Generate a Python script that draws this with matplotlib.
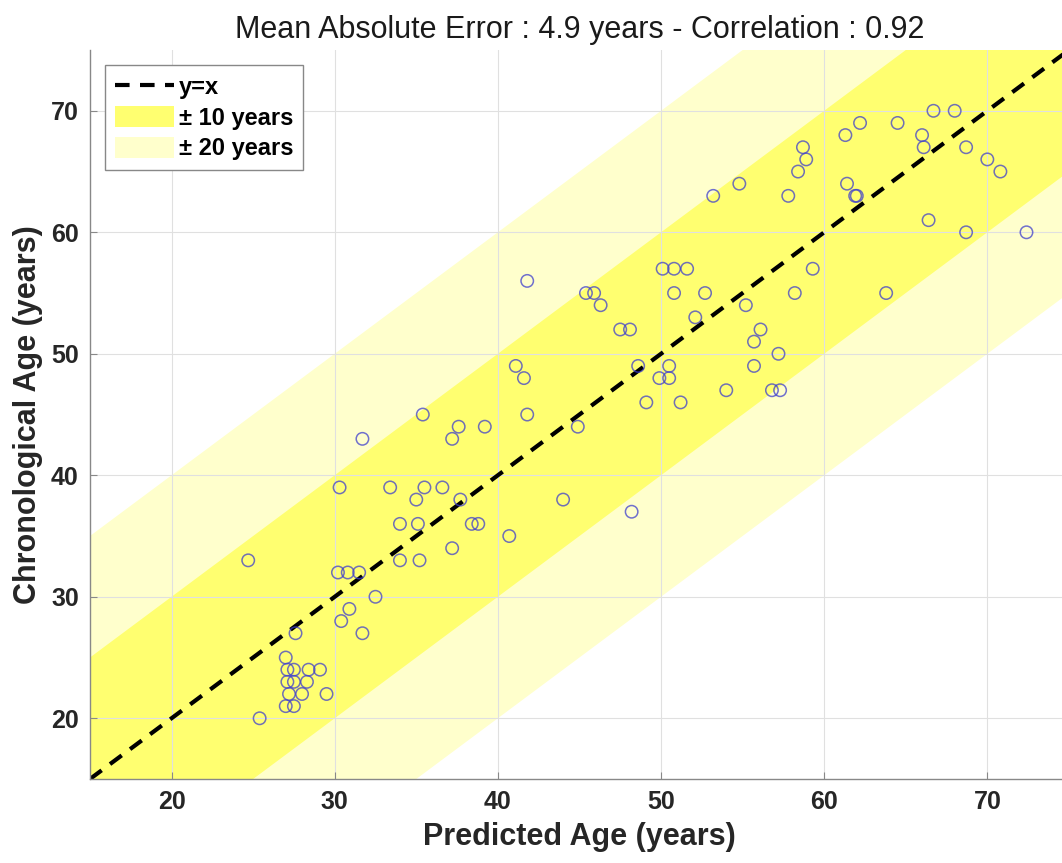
import numpy as np
import matplotlib
matplotlib.use('Agg')
import matplotlib.pyplot as plt
from matplotlib.patches import Patch
from matplotlib.lines import Line2D

plt.rcParams['font.family'] = ['Liberation Sans', 'DejaVu Sans']

# predicted age (x) and chronological age (y)
predicted = [35.4, 31.7, 30.3, 33.4, 35.5, 35.0, 34.0, 35.1, 34.0, 35.2,
             24.7, 30.2, 30.8, 31.5, 32.5, 30.9, 30.4, 31.7, 27.6, 27.0,
             27.1, 27.5, 28.4, 29.1, 27.1, 27.5, 28.3, 27.2, 28.0, 29.5,
             27.0, 27.5, 25.4, 41.8, 45.4, 45.9, 46.3, 47.5, 48.1, 50.1,
             50.8, 51.6, 50.8, 52.7, 52.1, 41.1, 41.6, 41.8, 48.6, 50.5,
             49.9, 50.5, 49.1, 51.2, 54.0, 37.6, 37.2, 39.2, 44.9, 36.6,
             37.7, 44.0, 38.4, 38.8, 48.2, 40.7, 37.2, 66.7, 68.0, 62.2,
             64.5, 61.3, 66.0, 58.7, 66.1, 68.7, 58.9, 70.0, 58.4, 70.8,
             54.8, 61.4, 53.2, 57.8, 61.9, 62.0, 66.4, 68.7, 72.4, 59.3,
             58.2, 63.8, 55.2, 56.1, 55.7, 57.2, 55.7, 56.8, 57.3]
chronological = [45, 43, 39, 39, 39, 38, 36, 36, 33, 33,
                 33, 32, 32, 32, 30, 29, 28, 27, 27, 25,
                 24, 24, 24, 24, 23, 23, 23, 22, 22, 22,
                 21, 21, 20, 56, 55, 55, 54, 52, 52, 57,
                 57, 57, 55, 55, 53, 49, 48, 45, 49, 49,
                 48, 48, 46, 46, 47, 44, 43, 44, 44, 39,
                 38, 38, 36, 36, 37, 35, 34, 70, 70, 69,
                 69, 68, 68, 67, 67, 67, 66, 66, 65, 65,
                 64, 64, 63, 63, 63, 63, 61, 60, 60, 57,
                 55, 55, 54, 52, 51, 50, 49, 47, 47]

mae = 4.9
corr = 0.92
xmin, xmax = 15, 75

fig = plt.figure(figsize=(10.62, 8.63), dpi=100)
ax = fig.add_axes([0.0847, 0.0973, 0.9218, 0.8447])

xx = np.array([xmin, xmax])
ax.fill_between(xx, xx - 20, xx + 20, color='#ffffcc', linewidth=0, zorder=1)
ax.fill_between(xx, xx - 10, xx + 10, color='#ffff70', linewidth=0, zorder=1)
ax.plot(xx, xx, color='black', linestyle=(0, (3.5, 2.5)), linewidth=3, zorder=2)
ax.scatter(predicted, chronological, s=80, facecolors='none',
           edgecolors=(0.25, 0.25, 0.8, 0.75), linewidths=1.1, zorder=3)

ax.set_xlim(xmin, xmax)
ax.set_ylim(15, 75)
ax.set_xticks([20, 30, 40, 50, 60, 70])
ax.set_yticks([20, 30, 40, 50, 60, 70])
ax.set_axisbelow('line')
ax.grid(True, color='#e0e0e0', linewidth=0.8)

for s in ['top', 'right']:
    ax.spines[s].set_visible(False)
for s in ['left', 'bottom']:
    ax.spines[s].set_color('#888888')
    ax.spines[s].set_linewidth(1.0)
ax.tick_params(direction='in', length=5, color='#888888', labelsize=18, pad=8)
for lab in ax.get_xticklabels() + ax.get_yticklabels():
    lab.set_fontweight('bold')
    lab.set_color('#262626')

ax.set_xlabel('Predicted Age (years)', fontsize=22, fontweight='bold', color='#262626', labelpad=6)
ax.set_ylabel('Chronological Age (years)', fontsize=22, fontweight='bold', color='#262626', labelpad=6)
ax.set_title('Mean Absolute Error : %.1f years - Correlation : %.2f' % (mae, corr),
             fontsize=22, color='#1a1a1a', pad=9)

handles = [Line2D([], [], color='black', linestyle=(0, (3.5, 2.5)), linewidth=3),
           Patch(facecolor='#ffff70', edgecolor='none'),
           Patch(facecolor='#ffffcc', edgecolor='none')]
leg = ax.legend(handles, ['y=x', '\u00b1 10 years', '\u00b1 20 years'], loc='upper left',
                fancybox=False, edgecolor='#888888', framealpha=1,
                prop={'weight': 'bold', 'size': 17}, handlelength=2.5, handleheight=1.0,
                handletextpad=0.2, borderpad=0.42, labelspacing=0.3,
                borderaxespad=0.65)
leg.get_frame().set_linewidth(1.0)

fig.savefig('out.png', dpi=100)
